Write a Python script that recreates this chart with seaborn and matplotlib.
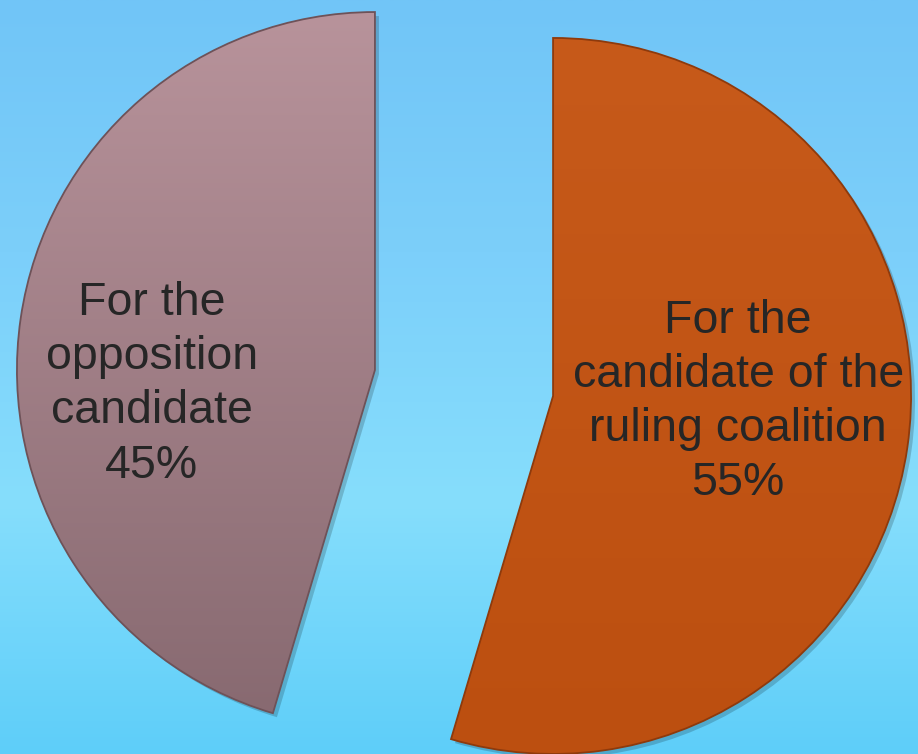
import numpy as np
import matplotlib
matplotlib.use("Agg")
import matplotlib.pyplot as plt
import matplotlib.patches as mpatches
from matplotlib.colors import LinearSegmentedColormap
from matplotlib.transforms import Affine2D
import seaborn as sns

# Data
labels = ["For the\ncandidate of the\nruling coalition", "For the\nopposition\ncandidate"]
shares = [54.6, 45.4]
top_colors = ["#C75A1A", "#B8939B"]
bottom_colors = ["#BC4F10", "#876970"]
edge_colors = ["#8E3A0C", "#6E5258"]

sns.set_theme(style="white")
plt.rcParams["font.family"] = ["Liberation Sans", "DejaVu Sans"]

W, H = 918, 754
fig = plt.figure(figsize=(W / 100, H / 100), dpi=100)
ax = fig.add_axes([0, 0, 1, 1])

# background gradient (blue at top, lighter cyan in the middle, deeper at the bottom)
bg = LinearSegmentedColormap.from_list("bg", ["#5ECEF9", "#86DEFC", "#7CCFFA", "#71C5F7"])
ax.imshow(np.linspace(0, 1, 256).reshape(-1, 1), cmap=bg, origin="lower",
          extent=(0, W, 0, H), aspect="auto", zorder=0)

radius = 358
wedges, _ = ax.pie(shares, startangle=90, counterclock=False, radius=radius,
                   center=(464, 371), explode=[90, 90],
                   wedgeprops=dict(linewidth=1.3))

for i, w in enumerate(wedges):
    cx, cy = w.center
    # soft drop shadow
    sh = mpatches.PathPatch(w.get_path(), transform=Affine2D().translate(4, -4) + ax.transData,
                            fc="black", ec="none", alpha=0.18, zorder=1)
    ax.add_patch(sh)
    cmap = LinearSegmentedColormap.from_list(f"s{i}", [bottom_colors[i], top_colors[i]])
    im = ax.imshow(np.linspace(0, 1, 256).reshape(-1, 1), cmap=cmap, origin="lower",
                   extent=(cx - radius, cx + radius, cy - radius, cy + radius),
                   aspect="auto", zorder=2)
    im.set_clip_path(w)
    w.set_facecolor("none")
    w.set_edgecolor(edge_colors[i])
    w.set_zorder(3)

# labels inside the slices
offsets = [(0.517, -0.017), (-0.623, -0.04)]
for w, lab, pct, (dx, dy) in zip(wedges, labels, shares, offsets):
    cx, cy = w.center
    ax.text(cx + dx * radius, cy + dy * radius, f"{lab}\n{pct:.0f}%", ha="center", va="center",
            fontsize=33.5, color="#262626", linespacing=1.3, zorder=4)

ax.set_xlim(0, W)
ax.set_ylim(0, H)
ax.set_aspect("equal")
ax.axis("off")

plt.savefig("out.png", dpi=100)
